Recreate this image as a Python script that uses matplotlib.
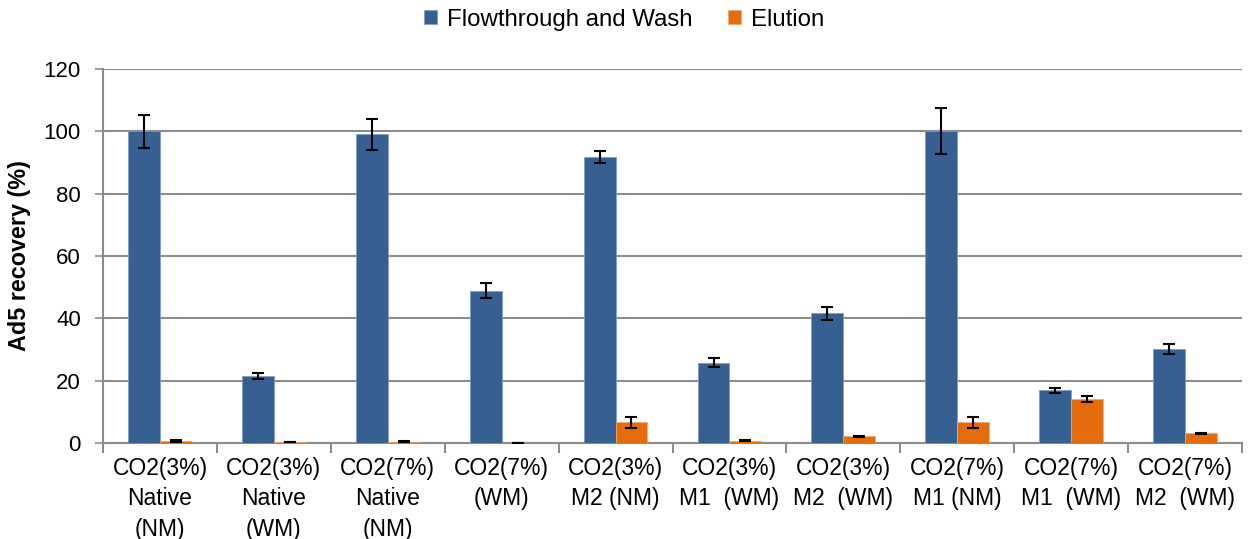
import matplotlib
matplotlib.use("Agg")
import matplotlib.pyplot as plt
import numpy as np

plt.rcParams['font.family'] = ['Liberation Sans', 'DejaVu Sans']

categories = ["CO2(3%)\nNative\n(NM)", "CO2(3%)\nNative\n(WM)", "CO2(7%)\nNative\n(NM)",
              "CO2(7%)\n(WM)", "CO2(3%)\nM2 (NM)", "CO2(3%)\nM1  (WM)",
              "CO2(3%)\nM2  (WM)", "CO2(7%)\nM1 (NM)", "CO2(7%)\nM1  (WM)",
              "CO2(7%)\nM2  (WM)"]
flow_wash = [100.0, 21.4, 99.1, 48.9, 91.8, 25.8, 41.6, 100.0, 16.9, 30.1]
flow_wash_err = [5.3, 1.0, 5.0, 2.5, 1.8, 1.4, 2.1, 7.4, 0.9, 1.6]
elution = [0.6, 0.3, 0.4, 0.15, 6.6, 0.8, 2.2, 6.6, 14.1, 3.1]
elution_err = [0.3, 0.1, 0.1, 0.0, 1.8, 0.2, 0.2, 1.8, 0.85, 0.2]
series_names = ["Flowthrough and Wash", "Elution"]
yticks = [0, 20, 40, 60, 80, 100, 120]

blue = "#376092"
orange = "#E46C0A"
grid_c = "#8c8c8c"

fig = plt.figure(figsize=(12.48, 5.39), dpi=100)
ax = fig.add_axes([103/1248, 96/539, (1242-103)/1248, (443-69)/539])

x = np.arange(len(categories))
w = 0.28
err_kw = dict(ecolor="black", elinewidth=1.5, capsize=4.3, capthick=1.5)
ax.bar(x - w/2, flow_wash, w, yerr=flow_wash_err, color=blue, edgecolor="#7f9cc0",
       linewidth=0.6, label=series_names[0], error_kw=err_kw, zorder=3)
ax.bar(x + w/2, elution, w, yerr=elution_err, color=orange, edgecolor="#f0a870",
       linewidth=0.6, label=series_names[1], error_kw=err_kw, zorder=3)

ax.set_xlim(-0.5, len(categories) - 0.5)
ax.set_ylim(0, 120)
ax.set_yticks(yticks)
ax.tick_params(axis='y', labelsize=16, direction='out', length=6, width=1.2, color=grid_c, pad=10)
ax.yaxis.grid(True, color=grid_c, linewidth=1.5, zorder=0)
ax.set_axisbelow(True)

ax.set_xticks(x)
ax.set_xticklabels(categories, fontsize=16.5, linespacing=1.42)
ax.set_xticks(np.arange(-0.5, len(categories)), minor=True)
ax.tick_params(axis='x', which='major', length=0, pad=10)
ax.tick_params(axis='x', which='minor', length=7, width=1.5, color=grid_c, direction='out')

for s in ['top', 'right']:
    ax.spines[s].set_visible(False)
for s in ['left', 'bottom']:
    ax.spines[s].set_color(grid_c)
    ax.spines[s].set_linewidth(1.5)

ax.set_ylabel("Ad5 recovery (%)", fontsize=16.8, fontweight='bold', labelpad=9)

leg = fig.legend(loc='upper center', bbox_to_anchor=(0.5, 1.024), ncol=2, frameon=False,
                 fontsize=17.3, handlelength=0.55, handleheight=0.55, handletextpad=0.4,
                 columnspacing=1.5)

fig.savefig("out.png", dpi=100)
